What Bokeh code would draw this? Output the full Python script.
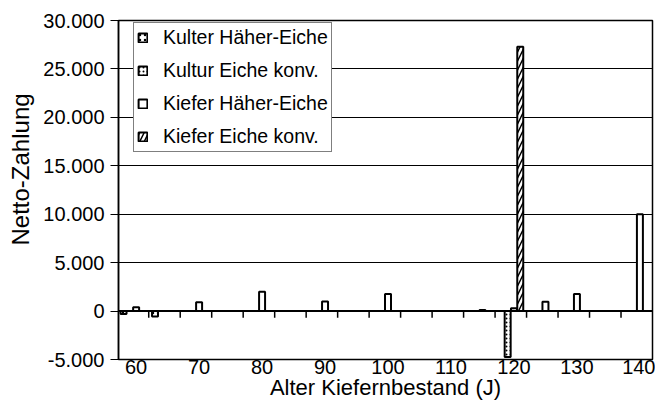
from bokeh.plotting import figure
from bokeh.models import Span, Legend, LegendItem, FixedTicker, CustomJSTickFormatter, Title
from bokeh.embed import file_html
from bokeh.resources import INLINE

# ---- data ----
series_names = ["Kulter Häher-Eiche", "Kultur Eiche konv.", "Kiefer Häher-Eiche", "Kiefer Eiche konv."]

kulter_haeher_years = [58, 63, 115, 120]
kulter_haeher_vals = [-300, -550, 100, 300]

kultur_konv_years = [119]
kultur_konv_vals = [-4750]

kiefer_haeher_years = [60, 70, 80, 90, 100, 125, 130, 140]
kiefer_haeher_vals = [400, 900, 2000, 1000, 1750, 950, 1750, 10000]

kiefer_konv_years = [121]
kiefer_konv_vals = [27300]

x_ticks = [60, 70, 80, 90, 100, 110, 120, 130, 140]
y_ticks = [-5000, 0, 5000, 10000, 15000, 20000, 25000, 30000]
grid_lines = [5000, 10000, 15000, 20000, 25000]
zero_axis_ticks = [62, 67, 72, 77, 82, 87, 92, 97, 102, 107, 112, 117, 122, 127, 132, 137]

FONT = "Liberation Sans"

p = figure(width=655, height=412, x_range=(57.2, 142.0), y_range=(-5000, 30000),
           output_backend="svg", toolbar_location=None,
           min_border_left=115, min_border_top=20, min_border_right=3, min_border_bottom=53,
           background_fill_color="white", border_fill_color="white")

p.outline_line_color = "black"
p.outline_line_width = 1.5

# axes
p.xaxis.ticker = FixedTicker(ticks=x_ticks)
p.xaxis.axis_line_color = None
p.xaxis.major_tick_out = 0
p.xaxis.major_tick_in = 0
p.xaxis.minor_tick_out = 0
p.xaxis.minor_tick_in = 0
p.xaxis.major_label_standoff = 0
p.xaxis.axis_label = "Alter Kiefernbestand (J)"
p.xaxis.axis_label_standoff = -2
p.xaxis.axis_label_text_font_style = "normal"

p.yaxis.ticker = FixedTicker(ticks=y_ticks)
p.yaxis.formatter = CustomJSTickFormatter(code="""
const s = Math.abs(tick).toFixed(0).replace(/\\B(?=(\\d{3})+(?!\\d))/g, '.');
return (tick < 0 ? '-' : '') + s;
""")
p.yaxis.axis_line_color = "black"
p.yaxis.axis_line_width = 1.5
p.yaxis.major_tick_out = 8
p.yaxis.major_tick_in = 0
p.yaxis.minor_tick_out = 0
p.yaxis.minor_tick_in = 0
p.yaxis.major_label_standoff = 6

for ax in (p.xaxis, p.yaxis):
    ax.major_label_text_font = FONT
    ax.major_label_text_font_size = "20px"
    ax.major_label_text_color = "black"
    ax.axis_label_text_font = FONT
    ax.axis_label_text_font_size = "22px"
    ax.axis_label_text_color = "black"

# y axis title, placed off-centre like the original
ytitle = Title(text="Netto-Zahlung", align="left", offset=114, vertical_align="middle",
               standoff=11, text_font=FONT, text_font_size="24px",
               text_font_style="normal", text_color="black")
p.add_layout(ytitle, "left")

p.xgrid.visible = False
p.ygrid.ticker = FixedTicker(ticks=grid_lines)
p.ygrid.grid_line_color = "black"
p.ygrid.grid_line_width = 1.2

# zero line with its ticks
p.add_layout(Span(location=0, dimension="width", line_color="black", line_width=2))
p.segment(x0=zero_axis_ticks, y0=[0] * len(zero_axis_ticks), x1=zero_axis_ticks,
          y1=[-700] * len(zero_axis_ticks), line_color="black", line_width=1.5)

BW = 0.95
common = dict(width=BW, bottom=0, fill_color="white", line_color="black", line_width=2)

r1 = p.vbar(x=kulter_haeher_years, top=kulter_haeher_vals, hatch_pattern="dot",
            hatch_scale=5, hatch_color="black", hatch_weight=0.8, **common)
r2 = p.vbar(x=kultur_konv_years, top=kultur_konv_vals, hatch_pattern="dot",
            hatch_scale=4, hatch_color="black", hatch_weight=1, **common)
r3 = p.vbar(x=kiefer_haeher_years, top=kiefer_haeher_vals, **common)
r4 = p.vbar(x=kiefer_konv_years, top=kiefer_konv_vals, hatch_pattern="right_diagonal_line",
            hatch_scale=9, hatch_color="black", hatch_weight=1.5, **common)

legend = Legend(items=[LegendItem(label=n, renderers=[r]) for n, r in zip(series_names, [r1, r2, r3, r4])],
                location=(15, 207))
legend.label_text_font = FONT
legend.label_text_font_size = "19.5px"
legend.label_text_color = "black"
legend.glyph_width = 11
legend.glyph_height = 11
legend.label_height = 22
legend.label_standoff = 15
legend.spacing = 10
legend.padding = 3
legend.margin = 0
legend.border_line_color = "black"
legend.border_line_width = 1.2
legend.background_fill_color = "white"
legend.background_fill_alpha = 1.0
p.add_layout(legend)

open("out.html", "w").write(file_html(p, INLINE))
